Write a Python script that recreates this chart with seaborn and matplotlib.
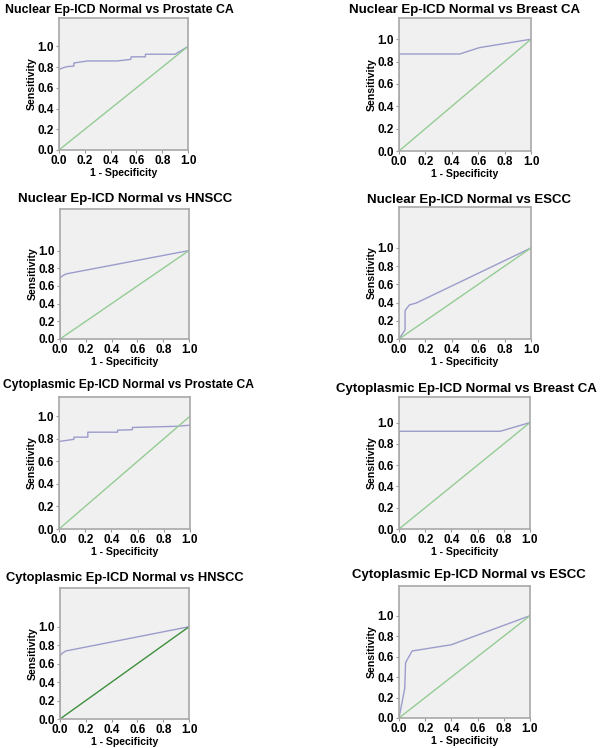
import matplotlib
matplotlib.use('Agg')
import matplotlib.pyplot as plt
import seaborn as sns
import pandas as pd

sns.set_theme(style='white')
plt.rcParams['font.family'] = ['Liberation Sans', 'DejaVu Sans']
plt.rcParams['font.weight'] = 'bold'
plt.rcParams['text.color'] = 'black'
plt.rcParams['axes.labelcolor'] = 'black'

titles = ['Nuclear Ep-ICD Normal vs Prostate CA', 'Nuclear Ep-ICD Normal vs Breast CA',
          'Nuclear Ep-ICD Normal vs HNSCC', 'Nuclear Ep-ICD Normal vs ESCC',
          'Cytoplasmic Ep-ICD Normal vs Prostate CA', 'Cytoplasmic Ep-ICD Normal vs Breast CA',
          'Cytoplasmic Ep-ICD Normal vs HNSCC', 'Cytoplasmic Ep-ICD Normal vs ESCC']

# ROC curves: x = 1 - specificity, y = sensitivity
nuc_prostate_fpr = [0, 0, 0.06, 0.115, 0.115, 0.22, 0.45, 0.555, 0.56, 0.67, 0.67, 0.90, 1.0]
nuc_prostate_tpr = [0, 0.78, 0.805, 0.81, 0.84, 0.86, 0.86, 0.875, 0.90, 0.90, 0.925, 0.925, 1.0]

nuc_breast_fpr = [0, 0, 0.46, 0.61, 1.0]
nuc_breast_tpr = [0, 0.868, 0.868, 0.925, 1.0]

nuc_hnscc_fpr = [0, 0, 0.02, 0.047, 1.0]
nuc_hnscc_tpr = [0, 0.69, 0.715, 0.736, 1.0]

nuc_escc_fpr = [0, 0.046, 0.046, 0.06, 0.08, 0.13, 1.0]
nuc_escc_tpr = [0, 0.10, 0.31, 0.34, 0.375, 0.395, 1.0]

cyt_prostate_fpr = [0, 0, 0.086, 0.114, 0.114, 0.22, 0.22, 0.447, 0.447, 0.56, 0.56, 0.89, 1.0]
cyt_prostate_tpr = [0, 0.776, 0.79, 0.795, 0.814, 0.814, 0.858, 0.858, 0.876, 0.88, 0.90, 0.91, 0.92]

cyt_breast_fpr = [0, 0, 0.773, 1.0]
cyt_breast_tpr = [0, 0.918, 0.918, 1.0]

cyt_hnscc_fpr = [0, 0, 0.02, 0.044, 1.0]
cyt_hnscc_tpr = [0, 0.686, 0.715, 0.737, 1.0]

cyt_escc_fpr = [0, 0.044, 0.05, 0.10, 0.40, 1.0]
cyt_escc_tpr = [0, 0.29, 0.54, 0.655, 0.716, 1.0]

ref_line = [0, 1]
ytop = [1.275, 1.19, 1.47, 1.45, 1.17, 1.24, 1.42, 1.29]
tick_vals = [0, 0.2, 0.4, 0.6, 0.8, 1.0]
tick_labels = ['0.0', '0.2', '0.4', '0.6', '0.8', '1.0']

curves = [(nuc_prostate_fpr, nuc_prostate_tpr), (nuc_breast_fpr, nuc_breast_tpr),
          (nuc_hnscc_fpr, nuc_hnscc_tpr), (nuc_escc_fpr, nuc_escc_tpr),
          (cyt_prostate_fpr, cyt_prostate_tpr), (cyt_breast_fpr, cyt_breast_tpr),
          (cyt_hnscc_fpr, cyt_hnscc_tpr), (cyt_escc_fpr, cyt_escc_tpr)]

# panel boxes in pixels: left, top, right, bottom
boxes = [(59, 18, 188, 150), (399, 18, 531, 151),
         (60, 209, 189, 339), (399, 207, 531, 339),
         (59, 397, 190, 529), (399, 397, 530, 529),
         (60, 588, 189, 719), (399, 586, 530, 718)]
pads = [3.6, 3.8, 5.3, 3.1, 6.5, 3.8, 5.0, 6.0]
title_sizes = [8.9, 9.5, 9.5, 9.5, 8.7, 9.5, 9.3, 9.5]
title_shift = [-4, 0, 1, 4, 4, 2, 0, 4]
diag_colors = ['#94cc94'] * 6 + ['#3d8f3d', '#94cc94']

W, H = 603, 748
fig = plt.figure(figsize=(W / 100, H / 100), dpi=100)

for i in range(8):
    l, t, r, b = boxes[i]
    ax = fig.add_axes([l / W, 1 - b / H, (r - l) / W, (b - t) / H])
    ax.set_facecolor('#f0f0f0')
    df = pd.DataFrame({'fpr': curves[i][0], 'tpr': curves[i][1]})
    sns.lineplot(data=df, x='fpr', y='tpr', sort=False, estimator=None,
                 color='#9c9ccc', lw=1.0, ax=ax)
    sns.lineplot(x=ref_line, y=ref_line, color=diag_colors[i], lw=1.0, ax=ax)
    ax.set_xlim(0, 1)
    ax.set_ylim(0, ytop[i])
    ax.set_xticks(tick_vals)
    ax.set_yticks(tick_vals)
    ax.set_xticklabels(tick_labels)
    ax.set_yticklabels(tick_labels)
    ax.tick_params(axis='both', length=2.5, width=0.8, color='#999999', pad=1,
                   labelsize=8.5, labelcolor='black', bottom=True, left=True)
    for s in ax.spines.values():
        s.set_color('#a8a8a8')
        s.set_linewidth(1.2)
    ax.set_xlabel('1 - Specificity', fontsize=7.6, fontweight='bold', labelpad=0.5)
    ax.set_ylabel('Sensitivity', fontsize=7.6, fontweight='bold', labelpad=1)
    ttl = ax.set_title(titles[i], fontsize=title_sizes[i], fontweight='bold', pad=pads[i])
    ttl.set_x(0.5 + title_shift[i] / (r - l))

fig.savefig('out.png', dpi=100)
